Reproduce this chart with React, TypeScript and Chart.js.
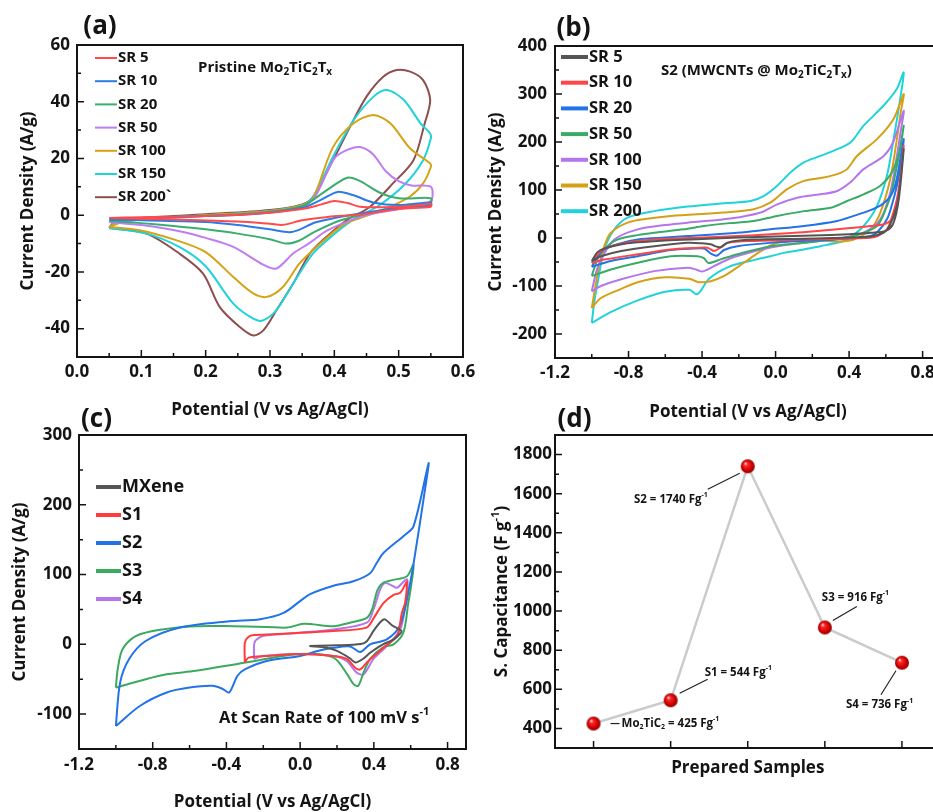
import React, { useEffect, useRef } from 'react';
import { Chart, registerables } from 'chart.js';
Chart.register(...registerables);

type P = [number, number];
type Seg = [string, 'n' | 'sub' | 'sup'];
const FONT = "'Open Sans', 'Noto Sans', sans-serif";
const INK = '#141414';

// ---------------- Panel (a): Pristine Mo2TiC2Tx ----------------
const A_X_TICKS = [0, 0.1, 0.2, 0.3, 0.4, 0.5, 0.6];
const A_Y_TICKS = [-40, -20, 0, 20, 40, 60];
const A_LABELS = ['SR 5', 'SR 10', 'SR 20', 'SR 50', 'SR 100', 'SR 150', 'SR 200`'];
const A_COLORS = ['#FF4B4B', '#2B7BE6', '#3AAE6E', '#C07CF2', '#D6A316', '#1FD3DA', '#8E4E4E'];
const A_SR5: P[] = [[0.05, -1.0], [0.1, -0.7], [0.2, -0.3], [0.28, 0.5], [0.35, 2.2], [0.38, 3.8], [0.4, 5.0], [0.42, 4.3], [0.44, 3.0], [0.48, 2.8], [0.52, 3.2], [0.55, 4.0], [0.55, 3.0], [0.5, 2.2], [0.44, 0.2], [0.39, -0.6], [0.35, -1.8], [0.32, -3.4], [0.3, -3.0], [0.25, -2.2], [0.15, -1.5], [0.05, -1.0]];
const A_SR10: P[] = [[0.05, -1.5], [0.1, -1.0], [0.2, -0.3], [0.28, 0.5], [0.35, 2.6], [0.38, 5.5], [0.405, 8.2], [0.43, 7.0], [0.46, 4.5], [0.5, 3.6], [0.55, 4.5], [0.55, 3.5], [0.5, 2.5], [0.44, 0.6], [0.4, -1.0], [0.37, -2.6], [0.345, -5.2], [0.33, -6.0], [0.3, -5.0], [0.25, -3.5], [0.2, -2.4], [0.1, -1.8], [0.05, -1.5]];
const A_SR20: P[] = [[0.05, -2.0], [0.1, -1.0], [0.2, -0.2], [0.28, 0.8], [0.35, 3.2], [0.38, 7.5], [0.42, 13.2], [0.44, 12.0], [0.47, 8.0], [0.5, 6.0], [0.55, 6.0], [0.55, 4.5], [0.5, 3.0], [0.45, 0.5], [0.41, -1.8], [0.37, -5.8], [0.345, -9.0], [0.325, -10.0], [0.3, -8.5], [0.25, -6.5], [0.2, -5.0], [0.15, -3.8], [0.1, -2.8], [0.05, -2.0]];
const A_SR50: P[] = [[0.05, -2.4], [0.1, -1.5], [0.2, -0.3], [0.28, 0.8], [0.35, 3.0], [0.37, 6.5], [0.4, 20.0], [0.42, 23.0], [0.44, 24.0], [0.46, 21.5], [0.48, 15.5], [0.5, 12.0], [0.52, 10.5], [0.55, 10.0], [0.55, 5.0], [0.52, 3.0], [0.47, 1.0], [0.44, -0.6], [0.39, -5.3], [0.36, -10.0], [0.336, -13.5], [0.31, -18.8], [0.29, -17.5], [0.243, -11.2], [0.2, -8.0], [0.165, -5.9], [0.1, -3.5], [0.05, -2.4]];
const A_SR100: P[] = [[0.05, -4.1], [0.07, -2.5], [0.1, -1.5], [0.2, 0.0], [0.3, 1.5], [0.35, 3.5], [0.367, 6.0], [0.398, 24.0], [0.43, 32.4], [0.461, 35.3], [0.487, 32.4], [0.518, 23.5], [0.549, 18.2], [0.55, 17.0], [0.538, 11.2], [0.517, 6.5], [0.481, 2.4], [0.44, -1.0], [0.413, -3.5], [0.378, -10.0], [0.346, -17.0], [0.32, -25.3], [0.295, -28.8], [0.274, -27.6], [0.243, -21.8], [0.2, -13.0], [0.154, -8.8], [0.097, -5.3], [0.05, -4.1]];
const A_SR150: P[] = [[0.05, -4.5], [0.06, -2.5], [0.1, -1.5], [0.2, 0.0], [0.3, 1.5], [0.35, 3.5], [0.367, 6.5], [0.398, 20.6], [0.43, 33.5], [0.461, 41.8], [0.482, 44.1], [0.508, 40.6], [0.534, 32.4], [0.549, 28.8], [0.55, 27.0], [0.538, 19.4], [0.51, 11.0], [0.47, 3.5], [0.43, -1.5], [0.398, -7.0], [0.367, -13.5], [0.336, -24.1], [0.31, -33.5], [0.289, -37.1], [0.274, -36.5], [0.243, -31.2], [0.2, -18.0], [0.159, -11.2], [0.108, -6.5], [0.05, -4.5]];
const A_SR200: P[] = [[0.05, -4.5], [0.06, -2.0], [0.1, -1.0], [0.2, 0.3], [0.3, 1.8], [0.35, 3.8], [0.367, 6.5], [0.398, 19.4], [0.424, 31.0], [0.45, 41.8], [0.476, 48.8], [0.497, 51.2], [0.518, 50.6], [0.538, 47.6], [0.549, 40.6], [0.54, 32.0], [0.523, 19.4], [0.491, 11.2], [0.455, 2.9], [0.419, -1.8], [0.388, -7.6], [0.362, -13.5], [0.336, -24.1], [0.31, -33.5], [0.29, -40.5], [0.274, -42.4], [0.253, -39.4], [0.222, -32.4], [0.196, -20.6], [0.159, -13.5], [0.108, -6.5], [0.05, -4.5]];
const A_TITLE: Seg[] = [['Pristine Mo', 'n'], ['2', 'sub'], ['TiC', 'n'], ['2', 'sub'], ['T', 'n'], ['x', 'sub']];

// ---------------- Panel (b): S2 (MWCNTs @ Mo2TiC2Tx) ----------------
const B_X_TICKS = [-1.2, -0.8, -0.4, 0, 0.4, 0.8];
const B_Y_TICKS = [-200, -100, 0, 100, 200, 300, 400];
const B_LABELS = ['SR 5', 'SR 10', 'SR 20', 'SR 50', 'SR 100', 'SR 150', 'SR 200'];
const B_COLORS = ['#555555', '#FF4545', '#2273E6', '#3BAA68', '#B576EC', '#D4A017', '#20D2DA'];
const B_SR5: P[] = [[-1.0, -48], [-0.97, -30], [-0.932, -22], [-0.85, -14], [-0.75, -9], [-0.6, -5], [-0.4, -2], [-0.2, 1], [0.0, 3], [0.2, 5], [0.4, 8], [0.52, 11], [0.6, 15], [0.64, 30], [0.67, 80], [0.697, 185], [0.68, 120], [0.66, 67], [0.62, 25], [0.588, 11], [0.516, 3], [0.3, 0], [0.154, -1.4], [-0.118, -3], [-0.22, -6], [-0.262, -10], [-0.3, -19], [-0.33, -17], [-0.353, -13], [-0.4, -11], [-0.48, -10], [-0.66, -17], [-0.84, -27], [-0.95, -38], [-1.0, -48]];
const B_SR10: P[] = [[-1.0, -52], [-0.97, -35], [-0.93, -22], [-0.85, -13], [-0.75, -6], [-0.6, -2], [-0.389, 1], [-0.2, 4], [-0.027, 7.7], [0.15, 12], [0.335, 18], [0.516, 25], [0.6, 30], [0.64, 45], [0.67, 95], [0.697, 192], [0.68, 130], [0.66, 81], [0.63, 40], [0.606, 18], [0.56, 5], [0.516, 0.7], [0.3, -2], [0.154, -3], [-0.118, -6], [-0.262, -10], [-0.3, -20], [-0.335, -27], [-0.36, -22], [-0.38, -20], [-0.45, -21], [-0.57, -24], [-0.75, -34], [-0.932, -45], [-1.0, -52]];
const B_SR20: P[] = [[-1.0, -60], [-0.97, -40], [-0.932, -24], [-0.85, -12], [-0.75, -3], [-0.6, 1], [-0.479, 4], [-0.208, 11], [-0.027, 18], [0.154, 25], [0.335, 35.5], [0.425, 46], [0.516, 58], [0.58, 70], [0.63, 90], [0.66, 125], [0.697, 206], [0.68, 150], [0.66, 109], [0.63, 65], [0.606, 39], [0.56, 15], [0.516, 4], [0.335, -3], [0.154, -6], [-0.027, -10], [-0.208, -17], [-0.28, -25], [-0.32, -37], [-0.35, -33], [-0.389, -22], [-0.45, -22], [-0.57, -25], [-0.75, -38], [-0.896, -48], [-1.0, -60]];
const B_SR50: P[] = [[-1.0, -79], [-0.97, -45], [-0.95, -31], [-0.9, -12], [-0.86, -3], [-0.75, 6], [-0.66, 11], [-0.5, 18], [-0.389, 25], [-0.25, 31], [-0.118, 35.5], [0.009, 46], [0.154, 56], [0.3, 63], [0.389, 77], [0.479, 91], [0.57, 109], [0.63, 135], [0.67, 175], [0.697, 234], [0.68, 190], [0.66, 150], [0.63, 95], [0.606, 67], [0.552, 25], [0.425, 4], [0.3, -3], [0.154, -10], [-0.027, -17], [-0.208, -34], [-0.299, -44.6], [-0.365, -52], [-0.39, -42], [-0.425, -38], [-0.57, -38], [-0.75, -51.5], [-0.896, -65.5], [-1.0, -79]];
const B_SR100: P[] = [[-1.0, -111], [-0.975, -70], [-0.95, -45], [-0.877, -3], [-0.75, 18], [-0.6, 27], [-0.479, 32], [-0.3, 38], [-0.208, 42.5], [-0.081, 53], [0.009, 70], [0.118, 84], [0.244, 91], [0.335, 98], [0.407, 116], [0.479, 143.5], [0.588, 171], [0.64, 200], [0.697, 265], [0.68, 220], [0.66, 171], [0.624, 95], [0.57, 39], [0.479, 11], [0.37, 0.7], [0.154, -10], [-0.027, -20], [-0.208, -37.6], [-0.299, -51.5], [-0.371, -66], [-0.4, -70], [-0.43, -66], [-0.48, -62], [-0.66, -69], [-0.84, -86], [-0.95, -100], [-1.0, -111]];
const B_SR150: P[] = [[-1.0, -146], [-0.98, -100], [-0.96, -58], [-0.93, -15], [-0.896, 11], [-0.805, 32], [-0.7, 40], [-0.57, 46], [-0.28, 53], [-0.118, 60], [-0.027, 74], [0.063, 102], [0.154, 119], [0.262, 126], [0.335, 133], [0.389, 143.5], [0.443, 171], [0.552, 206], [0.642, 248], [0.697, 300], [0.68, 260], [0.66, 206], [0.624, 123], [0.57, 53], [0.516, 18], [0.425, -3], [0.335, -8], [0.3, -7], [0.172, -2], [0.08, -6], [-0.009, -12.5], [-0.09, -30], [-0.172, -51.5], [-0.28, -79], [-0.353, -90], [-0.416, -92], [-0.47, -85], [-0.6, -82], [-0.75, -92], [-0.84, -106], [-0.95, -125], [-1.0, -146]];
const B_SR200: P[] = [[-1.0, -177], [-0.985, -130], [-0.968, -93], [-0.932, -24], [-0.877, 18], [-0.805, 42.5], [-0.66, 56], [-0.479, 65.5], [-0.28, 72.5], [-0.136, 77], [-0.063, 88], [0.009, 109], [0.081, 136.6], [0.154, 157.5], [0.244, 171], [0.317, 182], [0.407, 199], [0.479, 234], [0.588, 276], [0.66, 311], [0.697, 345], [0.678, 290], [0.642, 206], [0.606, 130], [0.552, 67], [0.479, 25], [0.389, -3], [0.335, -10], [0.244, -17], [0.154, -24], [0.045, -31], [-0.027, -38], [-0.109, -45], [-0.255, -60], [-0.362, -85], [-0.425, -117], [-0.47, -108], [-0.6, -112], [-0.75, -130], [-0.9, -155], [-1.0, -177]];
const B_TITLE: Seg[] = [['S2 (MWCNTs @ Mo', 'n'], ['2', 'sub'], ['TiC', 'n'], ['2', 'sub'], ['T', 'n'], ['x', 'sub'], [')', 'n']];

// ---------------- Panel (c): at 100 mV/s ----------------
const C_X_TICKS = [-1.2, -0.8, -0.4, 0, 0.4, 0.8];
const C_Y_TICKS = [-100, 0, 100, 200, 300];
const C_LABELS = ['MXene', 'S1', 'S2', 'S3', 'S4'];
const C_COLORS = ['#555555', '#FF3B3B', '#2273E6', '#3BAA5E', '#B576EC'];
const C_MXENE: P[] = [[0.05, -2.4], [0.2, -1.4], [0.33, 0.5], [0.36, 4], [0.4, 20], [0.44, 33], [0.46, 35.7], [0.5, 27], [0.55, 19], [0.53, 12], [0.5, 6], [0.45, 0], [0.42, -4.8], [0.38, -12], [0.34, -21], [0.3, -26], [0.27, -20], [0.2, -9.5], [0.145, -4.8], [0.05, -2.4]];
const C_S1: P[] = [[-0.3, -26], [-0.3, 2.4], [-0.28, 11], [-0.25, 13.5], [-0.181, 14], [0, 16.7], [0.181, 19], [0.36, 24], [0.4, 38], [0.452, 59], [0.507, 71], [0.543, 73.8], [0.57, 85.7], [0.58, 90], [0.57, 60], [0.552, 45], [0.525, 12], [0.452, -4.8], [0.362, -26], [0.326, -36], [0.3, -34], [0.253, -21], [0.181, -16.7], [0, -14], [-0.181, -16.7], [-0.28, -19], [-0.3, -26]];
const C_S2: P[] = [[-1.0, -117], [-0.977, -55], [-0.928, -21], [-0.838, 4.8], [-0.657, 23.8], [-0.385, 33], [-0.217, 36], [-0.09, 45], [0.0, 62], [0.054, 72], [0.181, 84], [0.289, 90.5], [0.38, 102], [0.416, 117], [0.452, 131], [0.56, 155], [0.615, 169], [0.697, 259.5], [0.669, 207], [0.633, 145], [0.597, 88], [0.543, 28], [0.47, 7], [0.38, 0], [0.326, -11], [0.271, -3], [0.181, -5], [0.09, -10], [0, -16.7], [-0.181, -24], [-0.3, -36], [-0.34, -45], [-0.385, -69], [-0.42, -64], [-0.476, -59.5], [-0.6, -62], [-0.724, -69], [-0.868, -88], [-1.0, -117]];
const C_S3: P[] = [[-1.0, -62], [-0.99, -35.7], [-0.964, -7], [-0.892, 11.9], [-0.747, 21.4], [-0.566, 26], [-0.362, 26], [-0.181, 25], [-0.072, 24], [0.018, 29.5], [0.072, 28.6], [0.181, 26], [0.271, 31], [0.362, 38], [0.39, 50], [0.42, 78], [0.45, 88], [0.5, 92], [0.58, 97.6], [0.615, 114], [0.6, 80], [0.587, 59.5], [0.56, 16.7], [0.507, 0], [0.452, -4], [0.38, -21], [0.345, -40], [0.315, -59.5], [0.29, -57], [0.253, -42], [0.181, -19], [0, -14], [-0.295, -26], [-0.566, -38], [-0.724, -43], [-0.838, -50], [-1.0, -62]];
const C_S4: P[] = [[-0.25, -21], [-0.248, 2.4], [-0.22, 10], [-0.18, 13], [0, 16.7], [0.181, 21.4], [0.362, 31], [0.398, 50], [0.434, 78.6], [0.46, 88], [0.5, 84], [0.525, 81], [0.58, 93], [0.575, 64], [0.543, 21], [0.47, -2.4], [0.398, -21], [0.344, -43], [0.307, -40.5], [0.253, -24], [0.181, -16.7], [0, -14], [-0.2, -16.7], [-0.25, -21]];
const C_NOTE: Seg[] = [['At Scan Rate of 100 mV s', 'n'], ['-1', 'sup']];

// ---------------- Panel (d): specific capacitance ----------------
const D_SAMPLES = ['Mo2TiC2', 'S1', 'S2', 'S3', 'S4'];
const D_CAPACITANCE = [425, 544, 1740, 916, 736];
const D_X_TICKS = [1, 2, 3, 4, 5];
const D_Y_TICKS = [400, 600, 800, 1000, 1200, 1400, 1600, 1800];
const D_NAME_SEGS: Seg[][] = [[['Mo', 'n'], ['2', 'sub'], ['TiC', 'n'], ['2', 'sub']], [['S1', 'n']], [['S2', 'n']], [['S3', 'n']], [['S4', 'n']]];
// leader line & label layout relative to each point (pixels)
const D_NOTE_LAYOUT = [
  { l1: [17, 0], l2: [26, 0], t: [28, 0], align: 'left' },
  { l1: [9, -7], l2: [37, -21], t: [34, -28], align: 'left' },
  { l1: [-8, 7], l2: [-40, 23], t: [-40, 33], align: 'right' },
  { l1: [8, -7], l2: [32, -21], t: [-3, -30], align: 'left' },
  { l1: [-6, 8], l2: [-21, 32], t: [-56, 42], align: 'left' },
];

// ---------------- helpers ----------------
function drawRich(ctx: CanvasRenderingContext2D, segs: Seg[], x: number, y: number, size: number, align = 'left', rot = 0) {
  ctx.save();
  ctx.translate(x, y);
  if (rot) ctx.rotate(rot);
  const sz = (k: string) => (k === 'n' ? size : Math.round(size * 0.64));
  const ws = segs.map(([t, k]) => {
    ctx.font = `bold ${sz(k)}px ${FONT}`;
    return ctx.measureText(t).width;
  });
  const total = ws.reduce((s, w) => s + w, 0);
  let cx = align === 'left' ? 0 : align === 'center' ? -total / 2 : -total;
  ctx.fillStyle = INK;
  ctx.textAlign = 'left';
  ctx.textBaseline = 'middle';
  segs.forEach(([t, k], i) => {
    ctx.font = `bold ${sz(k)}px ${FONT}`;
    const dy = k === 'sub' ? size * 0.3 : k === 'sup' ? -size * 0.36 : 0;
    ctx.fillText(t, cx, dy);
    cx += ws[i];
  });
  ctx.restore();
}

function minorsOf(major: number[], min: number, max: number) {
  const step = major[1] - major[0];
  const out: number[] = [];
  for (let i = -1; i < major.length; i++) {
    const v = i < 0 ? major[0] - step / 2 : major[i] + step / 2;
    if (v >= min - 1e-9 && v <= max + 1e-9) out.push(v);
  }
  return out;
}

function drawFrame(chart: any, xMinor: boolean) {
  const { ctx, chartArea: a } = chart;
  const xs = chart.scales.x, ys = chart.scales.y;
  const xv = xs.ticks.map((t: any) => t.value);
  const yv = ys.ticks.map((t: any) => t.value);
  ctx.save();
  ctx.strokeStyle = INK;
  ctx.lineWidth = 1.5;
  ctx.beginPath();
  xv.forEach((v: number) => { const p = xs.getPixelForValue(v); ctx.moveTo(p, a.bottom); ctx.lineTo(p, a.bottom - 7); });
  if (xMinor) minorsOf(xv, xs.min, xs.max).forEach((v) => { const p = xs.getPixelForValue(v); ctx.moveTo(p, a.bottom); ctx.lineTo(p, a.bottom - 4); });
  yv.forEach((v: number) => { const p = ys.getPixelForValue(v); ctx.moveTo(a.left, p); ctx.lineTo(a.left + 7, p); });
  minorsOf(yv, ys.min, ys.max).forEach((v) => { const p = ys.getPixelForValue(v); ctx.moveTo(a.left, p); ctx.lineTo(a.left + 4, p); });
  ctx.stroke();
  ctx.lineWidth = 2;
  ctx.strokeRect(a.left, a.top, a.right - a.left, a.bottom - a.top);
  ctx.restore();
}

function drawLegend(chart: any, x0: number, y0: number, dy: number, len: number, lw: number, size: number) {
  const ctx = chart.ctx;
  chart.data.datasets.forEach((ds: any, i: number) => {
    const y = y0 + i * dy;
    ctx.save();
    ctx.strokeStyle = ds.borderColor;
    ctx.lineWidth = lw;
    ctx.beginPath();
    ctx.moveTo(x0, y);
    ctx.lineTo(x0 + len, y);
    ctx.stroke();
    ctx.restore();
    drawRich(ctx, [[ds.label, 'n']], x0 + len + 1, y, size);
  });
}

function axis(min: number, max: number, ticks: number[], fmt: (v: number) => string, pad: number, fit: (s: any) => void, show = true) {
  return {
    type: 'linear', min, max,
    afterBuildTicks: (s: any) => { s.ticks = ticks.map((v) => ({ value: v })); },
    afterFit: fit,
    grid: { display: false, drawTicks: false },
    border: { display: false },
    ticks: { display: show, callback: (v: any) => fmt(Number(v)), font: { family: FONT, weight: 'bold', size: 17 }, color: INK, padding: pad, maxRotation: 0, autoSkip: false },
  };
}

interface CurveOpts {
  series: P[][]; labels: string[]; colors: string[]; width: number;
  xr: [number, number, number[]]; yr: [number, number, number[]];
  yW: number; xH: number; padTop: number; padRight: number; yPad: number; xPad: number;
  decorate: (c: any) => void;
}

function curveConfig(o: CurveOpts): any {
  return {
    type: 'line',
    data: {
      datasets: o.series.map((s, i) => ({
        label: o.labels[i],
        data: s.map(([x, y]) => ({ x, y })),
        borderColor: o.colors[i], backgroundColor: o.colors[i],
        borderWidth: o.width, pointRadius: 0, tension: 0.3, fill: false,
      })),
    },
    options: {
      animation: false, responsive: false, devicePixelRatio: 1, events: [],
      layout: { padding: { top: o.padTop, right: o.padRight, left: 0, bottom: 0 } },
      plugins: { legend: { display: false }, tooltip: { enabled: false } },
      scales: {
        x: axis(o.xr[0], o.xr[1], o.xr[2], (v) => v.toFixed(1), o.xPad, (s) => { s.height = o.xH; s.paddingLeft = 0; s.paddingRight = 0; }),
        y: axis(o.yr[0], o.yr[1], o.yr[2], (v) => String(v), o.yPad, (s) => { s.width = o.yW; s.paddingTop = 0; s.paddingBottom = 0; }),
      },
    },
    plugins: [{ id: 'deco', afterDraw: (c: any) => o.decorate(c) }],
  };
}

function makeSphere(r: number) {
  const c = document.createElement('canvas');
  c.width = c.height = r * 2 + 2;
  const g = c.getContext('2d')!;
  const m = r + 1;
  const grad = g.createRadialGradient(m - r * 0.35, m - r * 0.4, r * 0.05, m, m, r);
  grad.addColorStop(0, '#ffe6e6');
  grad.addColorStop(0.22, '#ff2a2a');
  grad.addColorStop(0.7, '#d10000');
  grad.addColorStop(1, '#8c0000');
  g.fillStyle = grad;
  g.beginPath();
  g.arc(m, m, r, 0, Math.PI * 2);
  g.fill();
  return c;
}

// ---------------- configs ----------------
const configA = () => curveConfig({
  series: [A_SR5, A_SR10, A_SR20, A_SR50, A_SR100, A_SR150, A_SR200], labels: A_LABELS, colors: A_COLORS, width: 2,
  xr: [0, 0.6, A_X_TICKS], yr: [-50, 60, A_Y_TICKS],
  yW: 77, xH: 73, padTop: 45, padRight: 27, yPad: 7, xPad: 5,
  decorate: (c) => {
    const ctx = c.ctx, a = c.chartArea;
    drawFrame(c, true);
    drawRich(ctx, [['(a)', 'n']], 100, 27, 26, 'center');
    drawRich(ctx, [['Current Density (A/g)', 'n']], 28, (a.top + a.bottom) / 2, 17, 'center', -Math.PI / 2);
    drawRich(ctx, [['Potential (V vs Ag/AgCl)', 'n']], (a.left + a.right) / 2, 410, 17, 'center');
    drawLegend(c, 95, 58, 23.2, 22, 2, 15);
    drawRich(ctx, A_TITLE, 198, 68, 15);
  },
});

const configB = () => curveConfig({
  series: [B_SR5, B_SR10, B_SR20, B_SR50, B_SR100, B_SR150, B_SR200], labels: B_LABELS, colors: B_COLORS, width: 2,
  xr: [-1.2, 0.9, B_X_TICKS], yr: [-250, 400, B_Y_TICKS],
  yW: 85, xH: 72, padTop: 46, padRight: 9, yPad: 8, xPad: 5,
  decorate: (c) => {
    const ctx = c.ctx, a = c.chartArea;
    drawFrame(c, true);
    drawRich(ctx, [['(b)', 'n']], 103.5, 29, 26, 'center');
    drawRich(ctx, [['Current Density (A/g)', 'n']], 26.5, (a.top + a.bottom) / 2, 17, 'center', -Math.PI / 2);
    drawRich(ctx, [['Potential (V vs Ag/AgCl)', 'n']], (a.left + a.right) / 2, 412, 17, 'center');
    drawLegend(c, 91, 57, 25.7, 27, 4, 16.5);
    drawRich(ctx, B_TITLE, 191, 71, 15);
  },
});

const configC = () => curveConfig({
  series: [C_MXENE, C_S1, C_S2, C_S3, C_S4], labels: C_LABELS, colors: C_COLORS, width: 2,
  xr: [-1.2, 0.9, C_X_TICKS], yr: [-150, 300, C_Y_TICKS],
  yW: 79, xH: 63, padTop: 35, padRight: 4, yPad: 7, xPad: 6,
  decorate: (c) => {
    const ctx = c.ctx, a = c.chartArea;
    drawFrame(c, true);
    drawRich(ctx, [['(c)', 'n']], 96.5, 20, 26, 'center');
    drawRich(ctx, [['Current Density (A/g)', 'n']], 20, (a.top + a.bottom) / 2, 17, 'center', -Math.PI / 2);
    drawRich(ctx, [['Potential (V vs Ag/AgCl)', 'n']], (a.left + a.right) / 2, 402, 17, 'center');
    drawLegend(c, 96, 87, 28, 25, 4, 18);
    drawRich(ctx, C_NOTE, 219, 318, 16.5);
  },
});

const configD = () => {
  const sphere = makeSphere(7);
  return {
    type: 'line',
    data: {
      labels: D_SAMPLES,
      datasets: [{
        label: 'S. Capacitance',
        data: D_CAPACITANCE.map((v, i) => ({ x: D_X_TICKS[i], y: v })),
        borderColor: '#cbcbcb', borderWidth: 2.5, tension: 0,
        pointStyle: sphere, pointRadius: 7,
      }],
    },
    options: {
      animation: false, responsive: false, devicePixelRatio: 1, events: [],
      layout: { padding: { top: 35, right: 9, left: 0, bottom: 0 } },
      plugins: { legend: { display: false }, tooltip: { enabled: false } },
      scales: {
        x: axis(0.5, 5.5, D_X_TICKS, (v) => String(v), 5, (s) => { s.height = 64; s.paddingLeft = 0; s.paddingRight = 0; }, false),
        y: axis(300, 1900, D_Y_TICKS, (v) => String(v), 3, (s) => { s.width = 85; s.paddingTop = 0; s.paddingBottom = 0; }),
      },
    },
    plugins: [{
      id: 'decoD',
      afterDraw: (c: any) => {
        const ctx = c.ctx, a = c.chartArea;
        drawFrame(c, false);
        drawRich(ctx, [['(d)', 'n']], 104.5, 19.5, 26, 'center');
        drawRich(ctx, [['S. Capacitance (F g', 'n'], ['-1', 'sup'], [')', 'n']], 32, (a.top + a.bottom) / 2, 17, 'center', -Math.PI / 2);
        drawRich(ctx, [['Prepared Samples', 'n']], (a.left + a.right) / 2, 368, 17, 'center');
        const xs = c.scales.x, ys = c.scales.y;
        D_CAPACITANCE.forEach((v, i) => {
          const px = xs.getPixelForValue(D_X_TICKS[i]);
          const py = ys.getPixelForValue(v);
          const L = D_NOTE_LAYOUT[i];
          ctx.save();
          ctx.strokeStyle = '#222';
          ctx.lineWidth = 1.2;
          ctx.beginPath();
          ctx.moveTo(px + L.l1[0], py + L.l1[1]);
          ctx.lineTo(px + L.l2[0], py + L.l2[1]);
          ctx.stroke();
          ctx.restore();
          const segs: Seg[] = [...D_NAME_SEGS[i], [` = ${v} Fg`, 'n'], ['-1', 'sup']];
          drawRich(ctx, segs, px + L.t[0], py + L.t[1], 11.5, L.align);
        });
      },
    }],
  };
};

function Panel({ left, top, width, height, make }: { left: number; top: number; width: number; height: number; make: () => any }) {
  const ref = useRef<HTMLCanvasElement>(null);
  useEffect(() => {
    const chart = new Chart(ref.current as HTMLCanvasElement, make());
    return () => chart.destroy();
  }, []);
  return <canvas ref={ref} width={width} height={height} style={{ position: 'absolute', left, top, width, height }} />;
}

export default function App() {
  return (
    <div style={{ position: 'absolute', left: 0, top: 0, width: 933, height: 812, overflow: 'hidden', background: '#fff' }}>
      <Panel left={0} top={0} width={490} height={430} make={configA} />
      <Panel left={470} top={0} width={480} height={430} make={configB} />
      <Panel left={0} top={400} width={470} height={412} make={configC} />
      <Panel left={470} top={400} width={480} height={412} make={configD} />
    </div>
  );
}
